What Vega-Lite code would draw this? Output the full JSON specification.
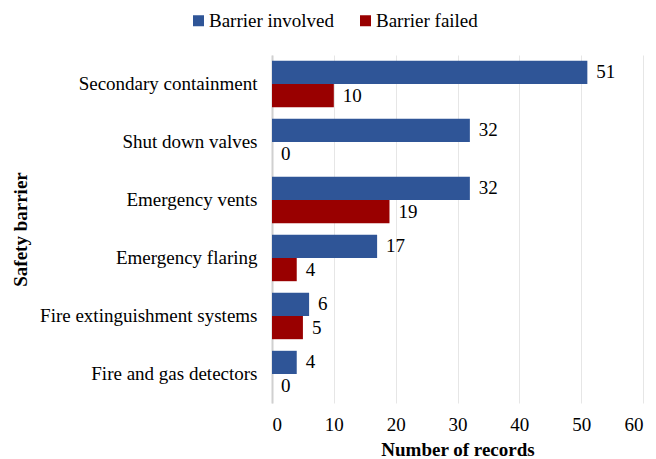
{
  "$schema": "https://vega.github.io/schema/vega-lite/v6.json",
  "width": 371,
  "height": 348,
  "autosize": {"type": "none"},
  "padding": {"left": 272, "top": 55, "right": 13, "bottom": 56},
  "config": {
    "font": "Times New Roman, Liberation Serif, serif",
    "view": {"stroke": null}
  },
  "data": {
    "values": [
      {"barrier": "Secondary containment", "series": "Barrier involved", "value": 51},
      {"barrier": "Secondary containment", "series": "Barrier failed", "value": 10},
      {"barrier": "Shut down valves", "series": "Barrier involved", "value": 32},
      {"barrier": "Shut down valves", "series": "Barrier failed", "value": 0},
      {"barrier": "Emergency vents", "series": "Barrier involved", "value": 32},
      {"barrier": "Emergency vents", "series": "Barrier failed", "value": 19},
      {"barrier": "Emergency flaring", "series": "Barrier involved", "value": 17},
      {"barrier": "Emergency flaring", "series": "Barrier failed", "value": 4},
      {"barrier": "Fire extinguishment systems", "series": "Barrier involved", "value": 6},
      {"barrier": "Fire extinguishment systems", "series": "Barrier failed", "value": 5},
      {"barrier": "Fire and gas detectors", "series": "Barrier involved", "value": 4},
      {"barrier": "Fire and gas detectors", "series": "Barrier failed", "value": 0}
    ]
  },
  "encoding": {
    "y": {
      "field": "barrier",
      "type": "nominal",
      "sort": ["Secondary containment", "Shut down valves", "Emergency vents", "Emergency flaring", "Fire extinguishment systems", "Fire and gas detectors"],
      "scale": {"paddingInner": 0.2, "paddingOuter": 0.1},
      "axis": {
        "title": "Safety barrier",
        "titleFont": "Times New Roman, Liberation Serif, serif",
        "titleFontSize": 19,
        "titleFontWeight": "bold",
        "titleColor": "#000000",
        "titleX": -252,
        "titleBaseline": "middle",
        "labelFont": "Times New Roman, Liberation Serif, serif",
        "labelFontSize": 19,
        "labelColor": "#000000",
        "labelPadding": 15,
        "ticks": false,
        "domain": true,
        "domainColor": "#d0d0d0",
        "domainWidth": 2,
        "labelLimit": 300
      }
    },
    "yOffset": {
      "field": "series",
      "type": "nominal",
      "sort": ["Barrier involved", "Barrier failed"]
    },
    "x": {
      "field": "value",
      "type": "quantitative",
      "scale": {"domain": [0, 60]},
      "axis": {
        "title": "Number of records",
        "titleFont": "Times New Roman, Liberation Serif, serif",
        "titleFontSize": 19,
        "titleFontWeight": "bold",
        "titleColor": "#000000",
        "titlePadding": 6,
        "labelFont": "Times New Roman, Liberation Serif, serif",
        "labelFontSize": 19,
        "labelColor": "#000000",
        "labelPadding": 12,
        "labelOverlap": false,
        "values": [0, 10, 20, 30, 40, 50, 60],
        "ticks": false,
        "domain": false,
        "grid": true,
        "gridColor": "#e6e6e6",
        "gridWidth": 1
      }
    }
  },
  "layer": [
    {
      "mark": {"type": "bar"},
      "encoding": {
        "color": {
          "field": "series",
          "type": "nominal",
          "sort": ["Barrier involved", "Barrier failed"],
          "scale": {"domain": ["Barrier involved", "Barrier failed"], "range": ["#2F5597", "#990000"]},
          "legend": {
            "title": null,
            "orient": "none",
            "direction": "horizontal",
            "legendX": -83,
            "legendY": -44,
            "symbolType": "square",
            "symbolSize": 121,
            "symbolStrokeWidth": 0,
            "labelFont": "Times New Roman, Liberation Serif, serif",
            "labelFontSize": 19,
            "labelColor": "#000000",
            "columnPadding": 21,
            "labelOffset": 1
          }
        }
      }
    },
    {
      "mark": {"type": "text", "align": "left", "baseline": "middle", "dx": 9, "font": "Times New Roman, Liberation Serif, serif", "fontSize": 19, "color": "#000000"},
      "encoding": {
        "text": {"field": "value", "type": "quantitative"}
      }
    }
  ]
}
